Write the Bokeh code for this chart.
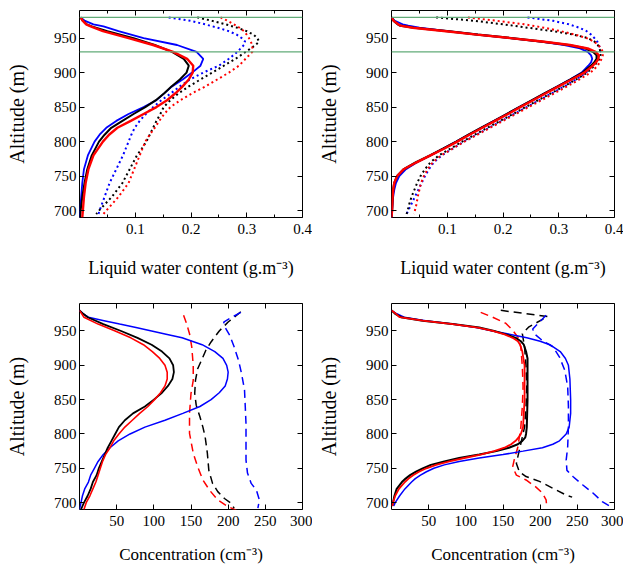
from bokeh.plotting import figure
from bokeh.models import FixedTicker, LinearAxis, Span, Range1d
from bokeh.layouts import column, row
from bokeh.embed import file_html
from bokeh.resources import INLINE

# ---------------- data ----------------
alt_ticks = [700, 750, 800, 850, 900, 950]
lwc_ticks = [0.1, 0.2, 0.3, 0.4]
lwc_minor = [0.05, 0.15, 0.25, 0.35]
conc_ticks = [50, 100, 150, 200, 250, 300]
cloud_layer_alt = [980, 930]

# top-left: liquid water content, solid
tl_alt = [980, 975, 970, 967, 960, 950, 940, 930, 920, 910, 900, 890, 880, 870,
          860, 850, 840, 830, 820, 810, 800, 780, 760, 740, 720, 700, 690]
tl_black = [0.002, 0.006, 0.013, 0.022, 0.05, 0.097, 0.135, 0.166, 0.187, 0.196, 0.192, 0.18, 0.165, 0.152,
            0.137, 0.118, 0.097, 0.077, 0.057, 0.045, 0.035, 0.022, 0.014, 0.009, 0.005, 0.002, 0.001]
tl_red = [0.002, 0.006, 0.012, 0.02, 0.042, 0.088, 0.132, 0.168, 0.193, 0.204, 0.203, 0.196, 0.185, 0.172,
          0.157, 0.138, 0.115, 0.092, 0.068, 0.053, 0.042, 0.025, 0.016, 0.011, 0.008, 0.006, 0.005]
tl_blue = [0.002, 0.01, 0.025, 0.043, 0.07, 0.115, 0.175, 0.21, 0.222, 0.217, 0.202, 0.185, 0.166, 0.152,
           0.138, 0.115, 0.088, 0.066, 0.048, 0.036, 0.027, 0.015, 0.008, 0.005, 0.003, 0.001, 0.0]
# top-left: dotted
tl_dot_alt = [980, 975, 970, 965, 960, 955, 950, 945, 940, 930, 920, 910, 900, 890, 880,
              870, 860, 850, 840, 830, 820, 810, 800, 790, 780, 760, 740, 720, 700, 695]
tl_dot_black = [0.211, 0.238, 0.262, 0.283, 0.3, 0.312, 0.319, 0.322, 0.316, 0.298, 0.28, 0.259, 0.238, 0.217, 0.196,
                0.178, 0.163, 0.151, 0.145, 0.138, 0.132, 0.126, 0.12, 0.112, 0.103, 0.09, 0.077, 0.058, 0.035, 0.03]
tl_dot_red = [0.253, 0.266, 0.277, 0.287, 0.295, 0.3, 0.304, 0.307, 0.31, 0.31, 0.298, 0.286, 0.268, 0.247, 0.226,
              0.202, 0.181, 0.163, 0.152, 0.143, 0.135, 0.126, 0.118, 0.113, 0.108, 0.098, 0.088, 0.07, 0.048, 0.043]
tl_dot_blue = [0.16, 0.2, 0.225, 0.248, 0.268, 0.282, 0.291, 0.297, 0.295, 0.283, 0.268, 0.25, 0.222, 0.198, 0.18,
               0.164, 0.147, 0.132, 0.119, 0.108, 0.099, 0.093, 0.088, 0.083, 0.078, 0.066, 0.054, 0.045, 0.036, 0.034]

# top-right: liquid water content, solid
tr_alt = [980, 975, 970, 968, 965, 960, 955, 950, 945, 940, 935, 930, 925, 920, 915, 910, 900, 890, 880,
          870, 860, 850, 840, 830, 820, 810, 800, 790, 780, 770, 760, 750, 740, 730, 720, 700, 690]
tr_black = [0.0, 0.004, 0.011, 0.016, 0.04, 0.1, 0.155, 0.215, 0.27, 0.318, 0.348, 0.362, 0.368, 0.368, 0.364, 0.358, 0.343, 0.321, 0.298,
            0.275, 0.252, 0.229, 0.207, 0.184, 0.161, 0.138, 0.116, 0.093, 0.069, 0.044, 0.022, 0.01, 0.005, 0.003, 0.002, 0.001, 0.0]
tr_red = [0.0, 0.004, 0.012, 0.016, 0.038, 0.098, 0.153, 0.213, 0.27, 0.32, 0.352, 0.366, 0.372, 0.371, 0.367, 0.361, 0.346, 0.323, 0.3,
          0.277, 0.254, 0.231, 0.209, 0.186, 0.163, 0.14, 0.118, 0.095, 0.07, 0.045, 0.022, 0.01, 0.005, 0.003, 0.002, 0.001, 0.0]
tr_blue = [0.0, 0.006, 0.02, 0.03, 0.05, 0.1, 0.155, 0.213, 0.268, 0.31, 0.338, 0.352, 0.358, 0.36, 0.358, 0.353, 0.341, 0.32, 0.298,
           0.275, 0.252, 0.229, 0.207, 0.184, 0.161, 0.138, 0.116, 0.093, 0.07, 0.046, 0.026, 0.014, 0.008, 0.005, 0.003, 0.001, 0.0]
# top-right: dotted
tr_dot_alt = [980, 975, 970, 965, 960, 955, 950, 945, 940, 935, 930, 925, 920, 910, 900, 890, 880,
              860, 840, 820, 800, 780, 770, 760, 750, 740, 730, 720, 710, 700, 695]
tr_dot_black = [0.08, 0.15, 0.2, 0.245, 0.29, 0.327, 0.352, 0.364, 0.37, 0.373, 0.375, 0.375, 0.373, 0.364, 0.351, 0.331, 0.309,
                0.263, 0.218, 0.172, 0.127, 0.085, 0.07, 0.06, 0.052, 0.046, 0.041, 0.036, 0.032, 0.029, 0.027]
tr_dot_red = [0.137, 0.19, 0.238, 0.274, 0.304, 0.33, 0.35, 0.363, 0.371, 0.376, 0.379, 0.379, 0.377, 0.37, 0.357, 0.337, 0.315,
              0.269, 0.223, 0.177, 0.131, 0.089, 0.074, 0.065, 0.058, 0.053, 0.05, 0.047, 0.045, 0.042, 0.041]
tr_dot_blue = [0.244, 0.29, 0.318, 0.337, 0.35, 0.358, 0.364, 0.369, 0.372, 0.374, 0.374, 0.372, 0.368, 0.36, 0.349, 0.331, 0.31,
               0.265, 0.22, 0.175, 0.13, 0.09, 0.076, 0.067, 0.06, 0.054, 0.048, 0.042, 0.036, 0.03, 0.027]

# bottom-left: concentration, solid
bl_alt = [980, 975, 970, 960, 950, 940, 930, 920, 910, 900, 890, 880, 870, 860, 850, 840,
          830, 820, 810, 800, 790, 780, 770, 760, 750, 740, 730, 720, 710, 700, 690]
bl_black = [0, 5, 11, 32, 56, 78, 97, 111, 121, 126, 127, 125, 119, 111, 100, 88,
            72, 61, 53, 48, 43, 38, 34, 30, 26, 23, 18, 15, 11, 6, 2]
bl_red = [0, 3, 6, 25, 48, 69, 86, 98, 108, 115, 118, 118, 115, 109, 101, 92,
          81, 71, 61, 53, 46, 41, 35, 31, 28, 25, 22, 18, 14, 9, 6]
bl_blue_alt = [980, 975, 970, 965, 960, 955, 950, 945, 940, 930, 920, 910, 900, 890, 880, 870, 860,
               850, 840, 830, 820, 810, 800, 790, 780, 770, 760, 750, 740, 730, 720, 710, 700, 690]
bl_blue = [0, 5, 12, 33, 54, 76, 97, 118, 138, 165, 182, 193, 198, 200, 199, 196, 188,
           177, 162, 139, 115, 88, 68, 52, 41, 32, 25, 20, 15, 12, 7, 4, 2, 0]
# bottom-left: dashed
bl_dash_red_alt = [973, 961, 946, 927, 900, 878, 859, 830, 801, 772, 752, 733, 718, 704, 694, 689]
bl_dash_red = [140, 144, 148, 151, 153, 153, 150, 148, 148, 153, 159, 166, 175, 186, 200, 211]
bl_dash_black_alt = [978, 970, 963, 950, 934, 922, 907, 895, 878, 859, 842, 825, 810, 796, 772,
                     747, 728, 716, 706, 699, 692]
bl_dash_black = [217, 208, 200, 188, 177, 170, 164, 159, 156, 155, 157, 162, 166, 169, 172,
                 174, 179, 186, 195, 204, 208]
bl_dash_blue_alt = [977, 970, 963, 955, 944, 927, 907, 888, 864, 840, 815, 791, 762, 743, 728, 718, 704, 692]
bl_dash_blue = [217, 205, 194, 196, 202, 208, 214, 218, 222, 223, 224, 224, 224, 226, 231, 238, 242, 240]

# bottom-right: concentration, solid
br_black_alt = [980, 975, 970, 965, 960, 955, 950, 945, 940, 935, 930, 920, 910, 900, 850, 810, 800, 795,
                790, 785, 780, 775, 770, 765, 760, 755, 750, 745, 740, 735, 730, 720, 710, 700, 695]
br_black = [0, 5, 13, 42, 82, 118, 138, 154, 167, 174, 178, 181, 183, 183, 183, 182, 181, 180,
            176, 170, 158, 141, 118, 91, 71, 53, 42, 33, 25, 19, 14, 7, 4, 2, 1]
br_red_alt = [980, 975, 970, 965, 960, 955, 950, 945, 940, 935, 930, 920, 900, 850, 810, 800, 795,
              790, 785, 780, 775, 770, 765, 760, 755, 750, 745, 740, 735, 730, 720, 710, 700, 695]
br_red = [0, 6, 11, 42, 82, 116, 136, 152, 163, 170, 173, 176, 179, 179, 177, 174, 171,
          167, 161, 152, 138, 120, 98, 78, 60, 47, 37, 29, 23, 18, 10, 5, 2, 1]
br_blue_alt = [980, 975, 970, 965, 960, 955, 950, 945, 940, 935, 930, 920, 910, 900, 880, 850, 830, 810,
               800, 790, 785, 780, 775, 770, 765, 760, 755, 750, 745, 740, 735, 730, 720, 710, 700, 695]
br_blue = [0, 7, 17, 46, 82, 114, 136, 160, 182, 200, 213, 227, 234, 238, 240, 241, 241, 239,
           235, 226, 217, 203, 177, 150, 118, 91, 71, 57, 47, 39, 32, 27, 18, 11, 5, 3]
# bottom-right: dashed
br_dash_red_alt = [977, 970, 961, 951, 941, 927, 898, 869, 840, 810, 781, 762, 752, 740, 733, 723, 714, 704, 692]
br_dash_red = [120, 136, 154, 163, 170, 174, 176, 177, 176, 174, 170, 165, 163, 168, 181, 194, 203, 208, 209]
br_dash_black_alt = [980, 971, 956, 946, 927, 898, 869, 840, 810, 786, 767, 757, 745, 738, 731, 721, 711, 708]
br_dash_black = [147, 210, 185, 176, 179, 181, 182, 181, 179, 174, 170, 168, 172, 181, 199, 217, 235, 243]
br_dash_blue_alt = [973, 963, 953, 946, 936, 927, 912, 893, 869, 840, 810, 781, 762, 747, 738, 726, 714, 701, 694]
br_dash_blue = [208, 199, 190, 192, 203, 217, 226, 233, 237, 238, 238, 237, 235, 236, 244, 257, 271, 284, 295]

# ---------------- styling ----------------
FONT = "Liberation Serif"
BLACK = "#000000"
RED = "#ff0000"
BLUE = "#0000ff"
GREEN = "#62ab78"


def style_axis(ax, label_size="15px"):
    ax.axis_line_color = None
    ax.major_tick_in = 5
    ax.major_tick_out = 0
    ax.minor_tick_in = 3
    ax.minor_tick_out = 0
    ax.major_tick_line_color = "black"
    ax.minor_tick_line_color = "black"
    ax.major_label_text_font = FONT
    ax.major_label_text_font_size = label_size
    ax.major_label_text_color = "black"
    ax.axis_label_text_font = FONT
    ax.axis_label_text_font_style = "normal"
    ax.axis_label_text_color = "black"


def make_fig(x_end, xticks, xminor, xlabel, xlabel_size, top, bottom, right, fh, label_standoff):
    p = figure(frame_width=223, frame_height=fh,
               x_range=Range1d(0, x_end), y_range=Range1d(690, 990),
               min_border_left=79, min_border_right=right,
               min_border_top=top, min_border_bottom=bottom,
               output_backend="svg", toolbar_location=None,
               background_fill_color="white", border_fill_color="white")
    p.outline_line_color = "black"
    p.outline_line_width = 1
    p.xgrid.visible = False
    p.ygrid.visible = False
    xt = FixedTicker(ticks=xticks, minor_ticks=xminor)
    yt = FixedTicker(ticks=alt_ticks, minor_ticks=[])
    p.xaxis.ticker = xt
    p.yaxis.ticker = yt
    style_axis(p.xaxis[0])
    style_axis(p.yaxis[0])
    p.xaxis[0].major_label_standoff = 6
    p.yaxis[0].major_label_standoff = 3
    p.xaxis[0].axis_label = xlabel
    p.xaxis[0].axis_label_text_font_size = xlabel_size
    p.xaxis[0].axis_label_standoff = label_standoff
    p.yaxis[0].axis_label = "Altitude (m)"
    p.yaxis[0].axis_label_text_font_size = "20px"
    p.yaxis[0].axis_label_standoff = 23
    # mirrored tick marks on the top and right edges (no labels)
    top_ax = LinearAxis(ticker=xt)
    right_ax = LinearAxis(ticker=yt)
    for ax, ticks in ((top_ax, list(xticks)), (right_ax, alt_ticks)):
        style_axis(ax, label_size="1px")
        ax.major_label_standoff = 0
        ax.major_label_overrides = {t: "" for t in ticks}
    p.add_layout(top_ax, "above")
    p.add_layout(right_ax, "right")
    return p


def add_lines(p, items, dash, widths):
    for (xs, ys, color), w in zip(items, widths):
        p.line(x=xs, y=ys, line_color=color, line_width=w, line_dash=dash)


LWC_LABEL = "Liquid water content (g.m\u207b\u00b3)"
CONC_LABEL = "Concentration (cm\u207b\u00b3)"

p1 = make_fig(0.4, lwc_ticks, lwc_minor, LWC_LABEL, "18px", 10, 78, 10, 207, 21)
p2 = make_fig(0.4, lwc_ticks, lwc_minor, LWC_LABEL, "18px", 10, 78, 9, 207, 21)
p3 = make_fig(300, conc_ticks, [], CONC_LABEL, "17px", 8, 57, 10, 206, 16)
p4 = make_fig(300, conc_ticks, [], CONC_LABEL, "17px", 8, 57, 9, 206, 16)

for p in (p1, p2):
    for a in cloud_layer_alt:
        p.add_layout(Span(location=a, dimension="width", line_color=GREEN, line_width=1.2))

add_lines(p1, [(tl_dot_blue, tl_dot_alt, BLUE), (tl_dot_black, tl_dot_alt, BLACK),
               (tl_dot_red, tl_dot_alt, RED)], "2 3", [2, 2, 2])
add_lines(p1, [(tl_blue, tl_alt, BLUE), (tl_black, tl_alt, BLACK), (tl_red, tl_alt, RED)],
          "solid", [1.8, 2, 2.4])

add_lines(p2, [(tr_dot_blue, tr_dot_alt, BLUE), (tr_dot_black, tr_dot_alt, BLACK),
               (tr_dot_red, tr_dot_alt, RED)], "2 3", [2, 2, 2])
add_lines(p2, [(tr_blue, tr_alt, BLUE), (tr_black, tr_alt, BLACK), (tr_red, tr_alt, RED)],
          "solid", [1.8, 2.2, 2.4])

add_lines(p3, [(bl_dash_red, bl_dash_red_alt, RED), (bl_dash_black, bl_dash_black_alt, BLACK),
               (bl_dash_blue, bl_dash_blue_alt, BLUE)], "8 5", [1.5, 1.5, 1.5])
add_lines(p3, [(bl_blue, bl_blue_alt, BLUE), (bl_black, bl_alt, BLACK), (bl_red, bl_alt, RED)],
          "solid", [1.5, 1.8, 1.6])

add_lines(p4, [(br_dash_red, br_dash_red_alt, RED), (br_dash_black, br_dash_black_alt, BLACK),
               (br_dash_blue, br_dash_blue_alt, BLUE)], "8 5", [1.5, 1.5, 1.5])
add_lines(p4, [(br_blue, br_blue_alt, BLUE), (br_black, br_black_alt, BLACK), (br_red, br_red_alt, RED)],
          "solid", [1.5, 2, 1.8])

layout = column(row(p1, p2), row(p3, p4))
open("out.html", "w").write(file_html(layout, INLINE))
